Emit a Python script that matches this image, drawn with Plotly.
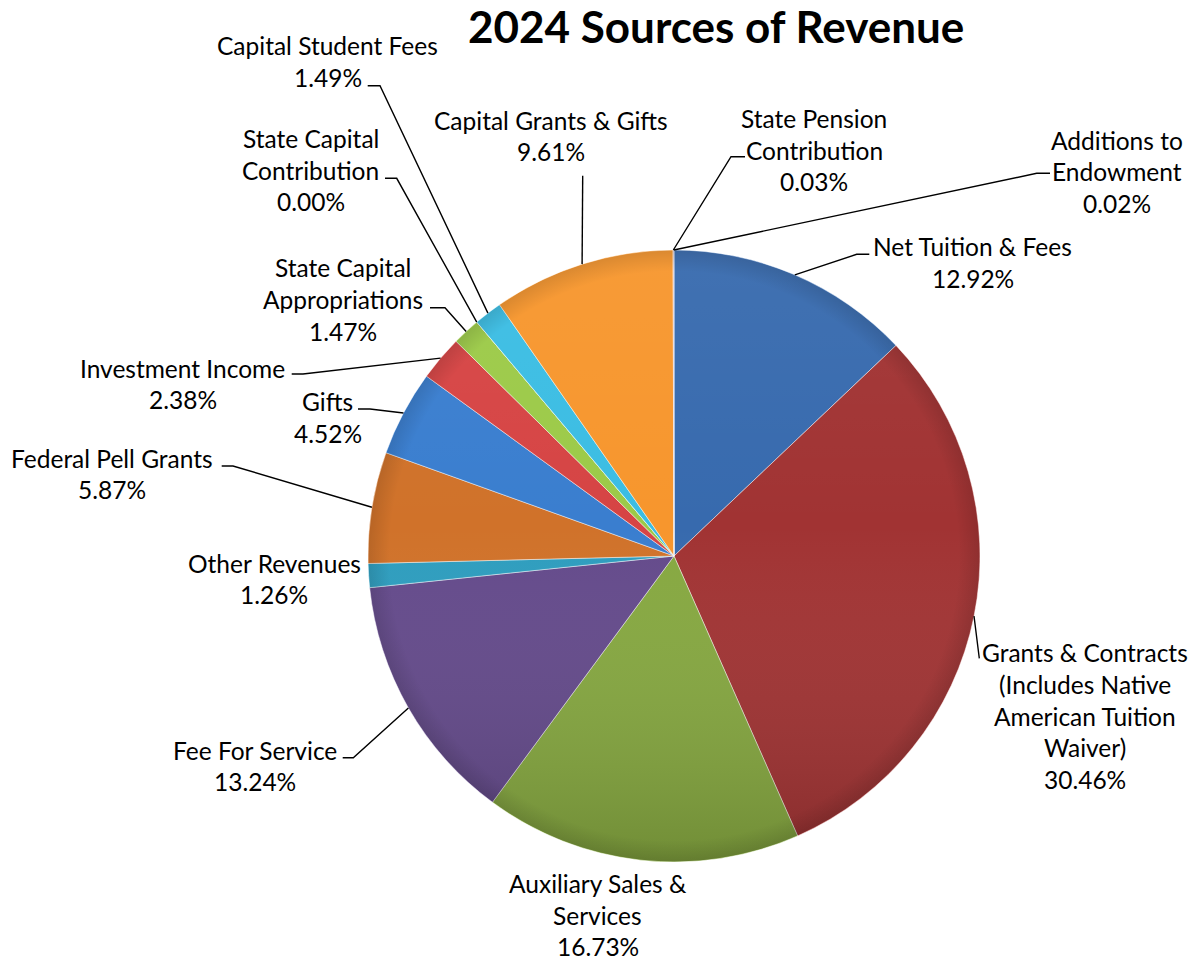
import base64
import math

import plotly.graph_objects as go

W, H = 1195, 960

# ---- data -------------------------------------------------------------
categories = [
    "Net Tuition & Fees",
    "Grants & Contracts (Includes Native American Tuition Waiver)",
    "Auxiliary Sales & Services",
    "Fee For Service",
    "Other Revenues",
    "Federal Pell Grants",
    "Gifts",
    "Investment Income",
    "State Capital Appropriations",
    "State Capital Contribution",
    "Capital Student Fees",
    "Capital Grants & Gifts",
    "State Pension Contribution",
    "Additions to Endowment",
]
shares = [12.92, 30.46, 16.73, 13.24, 1.26, 5.87, 4.52, 2.38, 1.47, 0.00, 1.49, 9.61, 0.03, 0.02]

# how each category name is wrapped in its label
label_lines = [
    ["Net Tuition & Fees"],
    ["Grants & Contracts", "(Includes Native", "American Tuition", "Waiver)"],
    ["Auxiliary Sales &", "Services"],
    ["Fee For Service"],
    ["Other Revenues"],
    ["Federal Pell Grants"],
    ["Gifts"],
    ["Investment Income"],
    ["State Capital", "Appropriations"],
    ["State Capital", "Contribution"],
    ["Capital Student Fees"],
    ["Capital Grants & Gifts"],
    ["State Pension", "Contribution"],
    ["Additions to", "Endowment"],
]

# ---- styling ------------------------------------------------------------
slice_colors = [
    "#376AAE", "#A13333", "#86A840", "#644A8B", "#2E9DBE", "#D0722A", "#3A7ECF",
    "#D64444", "#9CCA48", "#8064A2", "#3BBDE3", "#F7962D", "#4F81BD", "#C0504D",
]

FONT = "Lato"
LABEL_SIZE = 24.5
LINE_STEP = 31.7

# pie geometry in page pixels
PIE_CX, PIE_CY, PIE_R = 674, 556, 306

# label placement: centre x, y of first line, leader anchor (x, y) and hook length
label_cx = [972.5, 1085, 597.5, 255, 274, 111.7, 327.5, 182.5, 342.5, 310.5, 328, 550.5, 814.3, 1117]
label_y0 = [246.7, 652.7, 883.3, 750, 563, 458, 401.7, 368, 267.7, 138.3, 45.7, 120, 118.3, 140]
anchor_x = [869.3, 979.3, None, 342.7, None, 221.7, 358, 291.7, 430, 385, 367.7, 582.7, 745, 1050]
anchor_y = [254.3, 658.3, None, 757.7, None, 466, 409, 374, 307.7, 178.3, 85.7, 175.7, 156.7, 173.3]
hook_dx = [-12.6, 0, 0, 10.6, 0, 11.3, 12, 11.3, 15, 11.7, 12.3, 0, -14, -13.3]


def px(x):
    return x / W


def py(y):
    return 1 - y / H


fig = go.Figure()

fig.add_trace(
    go.Pie(
        labels=categories,
        values=shares,
        sort=False,
        direction="clockwise",
        rotation=0,
        textinfo="none",
        hovertemplate="%{label}<br>%{value:.2f}%<extra></extra>",
        marker=dict(colors=slice_colors, line=dict(color="rgba(255,255,255,0.45)", width=1)),
        domain=dict(
            x=[px(PIE_CX - PIE_R), px(PIE_CX + PIE_R)],
            y=[py(PIE_CY + PIE_R), py(PIE_CY - PIE_R)],
        ),
        showlegend=False,
    )
)

# soft top-to-bottom shading over the disc
shade_svg = (
    '<svg xmlns="http://www.w3.org/2000/svg" width="612" height="612" viewBox="0 0 100 100">'
    '<defs>'
    '<linearGradient id="g" x1="0" y1="0" x2="0" y2="1">'
    '<stop offset="0" stop-color="#ffffff" stop-opacity="0.05"/>'
    '<stop offset="0.45" stop-color="#ffffff" stop-opacity="0"/>'
    '<stop offset="1" stop-color="#000000" stop-opacity="0.16"/>'
    '</linearGradient>'
    '<radialGradient id="r" cx="50" cy="50" r="50" gradientUnits="userSpaceOnUse">'
    '<stop offset="0.93" stop-color="#000000" stop-opacity="0"/>'
    '<stop offset="1" stop-color="#000000" stop-opacity="0.12"/>'
    '</radialGradient>'
    '</defs>'
    '<circle cx="50" cy="50" r="49.9" fill="url(#g)"/>'
    '<circle cx="50" cy="50" r="49.9" fill="url(#r)"/>'
    '</svg>'
)
fig.add_layout_image(
    dict(
        source="data:image/svg+xml;base64," + base64.b64encode(shade_svg.encode()).decode(),
        xref="paper", yref="paper",
        x=px(PIE_CX - PIE_R), y=py(PIE_CY - PIE_R),
        sizex=2 * PIE_R / W, sizey=2 * PIE_R / H,
        xanchor="left", yanchor="top", sizing="stretch", layer="above",
    )
)

# ---- labels and leader lines ----------------------------------------------
total = sum(shares)
annotations = []
shapes = []
cum = 0.0
for i, v in enumerate(shares):
    mid = (cum + v / 2) / total * 2 * math.pi
    cum += v
    lines = label_lines[i] + [f"{v:.2f}%"]
    for k, t in enumerate(lines):
        annotations.append(
            dict(
                x=px(label_cx[i]), y=py(label_y0[i] + k * LINE_STEP),
                xref="paper", yref="paper", text=t, showarrow=False,
                xanchor="center", yanchor="middle",
                font=dict(family=FONT, size=LABEL_SIZE, color="#000000"),
            )
        )
    if anchor_x[i] is None:
        continue
    sx = PIE_CX + PIE_R * math.sin(mid)
    sy = PIE_CY - PIE_R * math.cos(mid)
    pts = [(sx, sy)]
    if hook_dx[i]:
        pts.append((anchor_x[i] + hook_dx[i], anchor_y[i]))
    pts.append((anchor_x[i], anchor_y[i]))
    path = "M " + " L ".join(f"{px(a):.5f},{py(b):.5f}" for a, b in pts)
    shapes.append(
        dict(type="path", path=path, xref="paper", yref="paper",
             line=dict(color="#000000", width=1.4))
    )

annotations.append(
    dict(
        x=px(715.5), y=py(26), xref="paper", yref="paper",
        text="<b>2024 Sources of Revenue</b>", showarrow=False,
        xanchor="center", yanchor="middle",
        font=dict(family=FONT, size=44, color="#000000"),
    )
)

fig.update_layout(
    width=W, height=H,
    margin=dict(l=0, r=0, t=0, b=0),
    paper_bgcolor="#FFFFFF", plot_bgcolor="#FFFFFF",
    annotations=annotations, shapes=shapes,
    showlegend=False,
)

fig.write_html("out.html")
